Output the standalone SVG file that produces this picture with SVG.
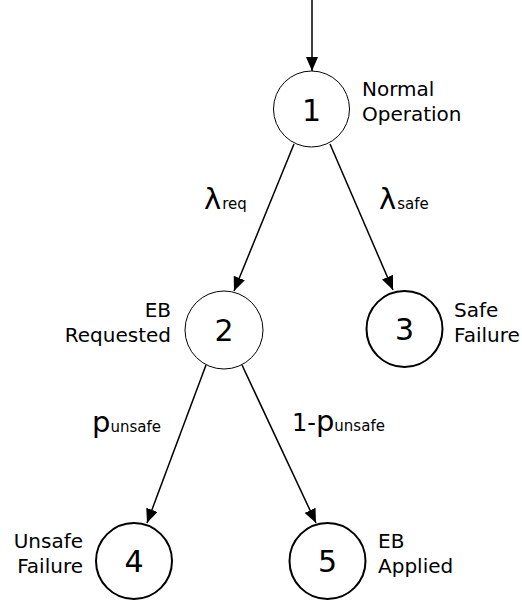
<svg xmlns="http://www.w3.org/2000/svg" width="522" height="601" viewBox="0 0 522 601">
<defs>
<marker id="ah" markerWidth="14" markerHeight="12" refX="14" refY="6" orient="auto" markerUnits="userSpaceOnUse">
<path d="M0,0 L14,6 L0,12 Z" fill="#000"/>
</marker>
<style>
.n{fill:#fff;stroke:#000;stroke-width:1}
.f{fill:#fff;stroke:#000;stroke-width:2}
.num{font-family:"DejaVu Sans",sans-serif;font-size:30px;text-anchor:middle}
.lb{font-family:"DejaVu Sans",sans-serif;font-size:20px}
.el{font-family:"DejaVu Sans",sans-serif;font-size:29px}
.sm{font-size:24px}
.sub{font-size:15px}
.c{stroke:#000;stroke-width:1.5;fill:none;marker-end:url(#ah)}
</style>
</defs>
<rect width="522" height="601" fill="#fff"/>
<g id="connectors">
<line class="c" x1="312" y1="0" x2="312" y2="71"/>
<line class="c" x1="294" y1="144" x2="234" y2="291"/>
<line class="c" x1="330" y1="144" x2="393" y2="290"/>
<line class="c" x1="206" y1="365" x2="147" y2="523"/>
<line class="c" x1="242" y1="365" x2="316" y2="523"/>
<text class="el" x="204" y="209">λ<tspan class="sub" dx="1">req</tspan></text>
<text class="el" x="379" y="209">λ<tspan class="sub" dx="1">safe</tspan></text>
<text class="el" x="92" y="432">p<tspan class="sub">unsafe</tspan></text>
<text class="el" x="292" y="431"><tspan class="sm">1-</tspan>p<tspan class="sub">unsafe</tspan></text>
</g>
<g id="n1">
<circle class="n" cx="311.5" cy="109" r="38"/>
<text class="num" x="311.5" y="121">1</text>
<text class="lb" x="362" y="96">Normal</text>
<text class="lb" x="362" y="121">Operation</text>
</g>
<g id="n2">
<circle class="n" cx="224" cy="330" r="39"/>
<text class="num" x="224" y="341">2</text>
<text class="lb" x="171" y="317" text-anchor="end">EB</text>
<text class="lb" x="171" y="342" text-anchor="end">Requested</text>
</g>
<g id="n3">
<circle class="f" cx="404.5" cy="329" r="38"/>
<text class="num" x="404.5" y="340">3</text>
<text class="lb" x="454" y="317">Safe</text>
<text class="lb" x="454" y="342">Failure</text>
</g>
<g id="n4">
<circle class="f" cx="134" cy="561" r="38"/>
<text class="num" x="134" y="572">4</text>
<text class="lb" x="83" y="548" text-anchor="end">Unsafe</text>
<text class="lb" x="83" y="573" text-anchor="end">Failure</text>
</g>
<g id="n5">
<circle class="f" cx="327.5" cy="561" r="38"/>
<text class="num" x="327.5" y="572">5</text>
<text class="lb" x="378" y="548">EB</text>
<text class="lb" x="378" y="573">Applied</text>
</g>
</svg>
